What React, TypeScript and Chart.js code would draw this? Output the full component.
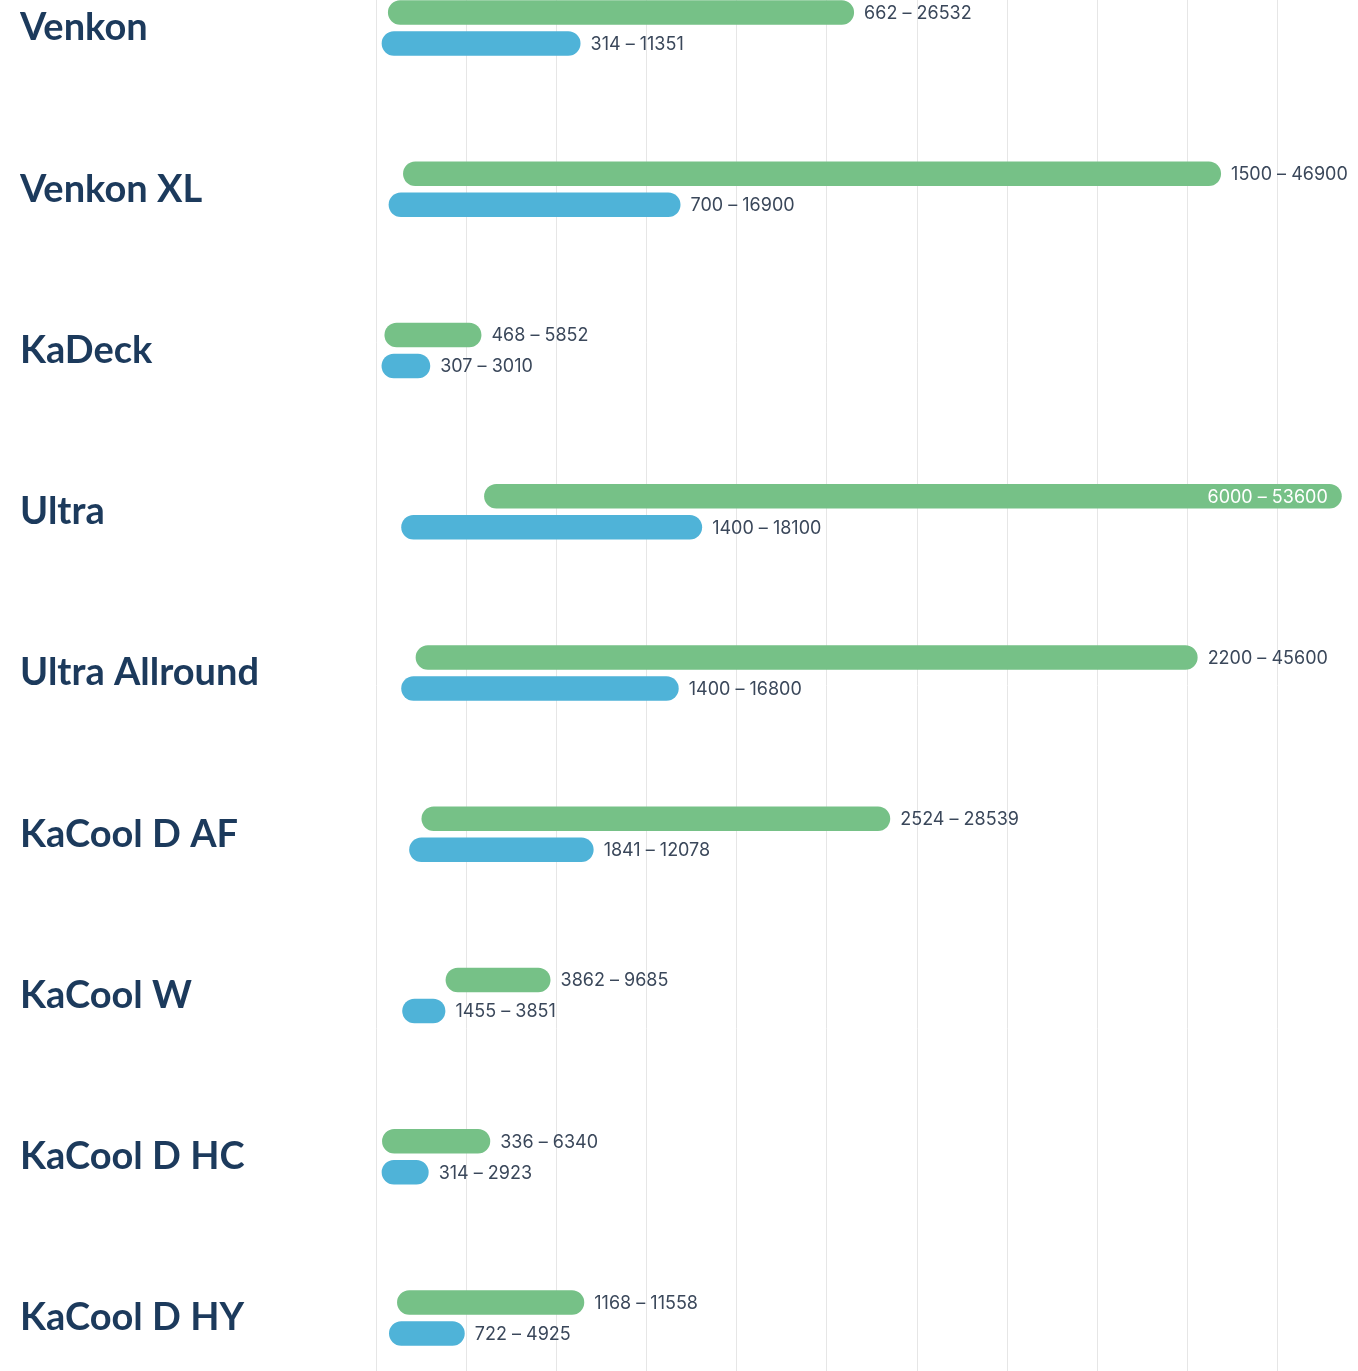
import React, { useEffect, useRef } from "react";
import { Chart, registerables } from "chart.js";

Chart.register(...registerables);

const categories = [
  "Venkon",
  "Venkon XL",
  "KaDeck",
  "Ultra",
  "Ultra Allround",
  "KaCool D AF",
  "KaCool W",
  "KaCool D HC",
  "KaCool D HY",
];

const greenLow = [662, 1500, 468, 6000, 2200, 2524, 3862, 336, 1168];
const greenHigh = [26532, 46900, 5852, 53600, 45600, 28539, 9685, 6340, 11558];
const blueLow = [314, 700, 307, 1400, 1400, 1841, 1455, 314, 722];
const blueHigh = [11351, 16900, 3010, 18100, 16800, 12078, 3851, 2923, 4925];

const X_MAX = 54500;
const GRID_STEP = 5000;

const W = 1358;
const H = 1371;
const GREEN = "#76c187";
const BLUE = "#4fb3d8";
const NAVY = "#1c3a5c";
const LABEL = "#3a475a";
const GRID = "#e6e6e6";

const gridPlugin = {
  id: "fullGrid",
  beforeDatasetsDraw(chart: any) {
    const ctx = chart.ctx;
    const x = chart.scales.x;
    ctx.save();
    ctx.strokeStyle = GRID;
    ctx.lineWidth = 1;
    for (let v = 0; v <= X_MAX; v += GRID_STEP) {
      const px = Math.round(x.getPixelForValue(v)) + 0.5;
      ctx.beginPath();
      ctx.moveTo(px, 0);
      ctx.lineTo(px, chart.height);
      ctx.stroke();
    }
    ctx.restore();
  },
};

const labelPlugin = {
  id: "rangeLabels",
  afterDatasetsDraw(chart: any) {
    const ctx = chart.ctx;
    ctx.save();
    ctx.font = "400 18px Inter";
    ctx.textBaseline = "middle";
    chart.data.datasets.forEach((ds: any, di: number) => {
      const meta = chart.getDatasetMeta(di);
      meta.data.forEach((bar: any, i: number) => {
        const v = ds.data[i];
        const text = `${v[0]} – ${v[1]}`;
        const w = ctx.measureText(text).width;
        const end = Math.max(bar.x, bar.base);
        if (end + 10 + w > chart.width - 2) {
          ctx.fillStyle = "#ffffff";
          ctx.textAlign = "right";
          ctx.fillText(text, end - 14, bar.y + 1);
        } else {
          ctx.fillStyle = LABEL;
          ctx.textAlign = "left";
          ctx.fillText(text, end + 10, bar.y + 1);
        }
      });
    });
    ctx.restore();
  },
};

export default function App() {
  const ref = useRef<HTMLCanvasElement | null>(null);

  useEffect(() => {
    document.body.style.margin = "0";
    if (!ref.current) return;
    const chart = new Chart(ref.current, {
      type: "bar",
      data: {
        labels: categories,
        datasets: [
          {
            label: "Green",
            data: greenLow.map((l, i) => [l, greenHigh[i]]),
            backgroundColor: GREEN,
            borderWidth: 0,
            borderSkipped: false,
            borderRadius: 20,
            categoryPercentage: 0.385,
            barPercentage: 0.79,
            clip: false,
          },
          {
            label: "Blue",
            data: blueLow.map((l, i) => [l, blueHigh[i]]),
            backgroundColor: BLUE,
            borderWidth: 0,
            borderSkipped: false,
            borderRadius: 20,
            categoryPercentage: 0.385,
            barPercentage: 0.79,
            clip: false,
          },
        ],
      },
      options: {
        indexAxis: "y",
        responsive: false,
        animation: false,
        layout: { padding: { top: 28, bottom: 53, left: 20, right: 0 } },
        plugins: {
          legend: { display: false },
          tooltip: { enabled: false },
        },
        scales: {
          x: {
            type: "linear",
            min: 0,
            max: X_MAX,
            ticks: { display: false },
            grid: { display: false, drawTicks: false },
            border: { display: false },
          },
          y: {
            type: "category",
            offset: false,
            grid: { display: false, drawTicks: false },
            border: { display: false },
            ticks: {
              autoSkip: false,
              crossAlign: "far",
              color: NAVY,
              font: { family: "Lato", size: 38, weight: "bold" },
              padding: 0,
            },
            afterFit(scale: any) {
              scale.width = 356;
            },
          },
        },
      },
      plugins: [gridPlugin, labelPlugin],
    } as any);
    return () => chart.destroy();
  }, []);

  return (
    <div style={{ width: W, height: H }}>
      <canvas ref={ref} width={W} height={H} style={{ display: "block" }} />
    </div>
  );
}
